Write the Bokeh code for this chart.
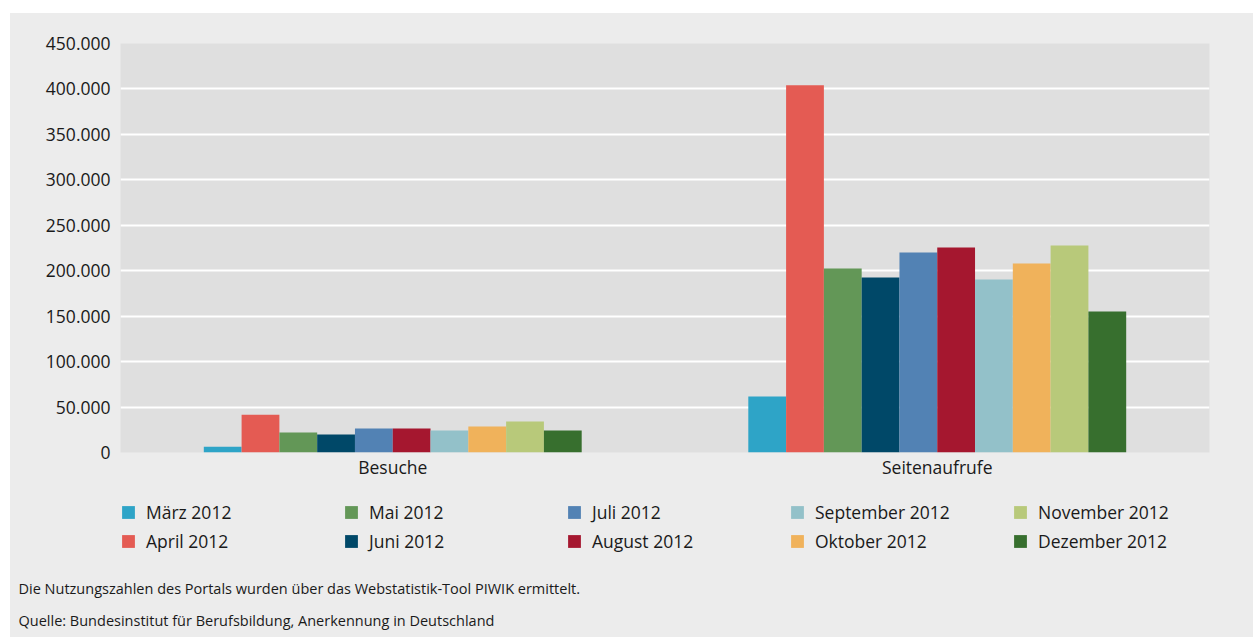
from bokeh.plotting import figure
from bokeh.models import ColumnDataSource, FactorRange, Legend, LegendItem, FixedTicker, Label, Spacer
from bokeh.layouts import column, row
from bokeh.transform import dodge
from bokeh.embed import file_html
from bokeh.resources import INLINE

categories = ["Besuche", "Seitenaufrufe"]
months = ["März 2012", "April 2012", "Mai 2012", "Juni 2012", "Juli 2012",
          "August 2012", "September 2012", "Oktober 2012", "November 2012", "Dezember 2012"]
maerz = [6300, 61500]
april = [41500, 404000]
mai = [22000, 202500]
juni = [19800, 192500]
juli = [26400, 220000]
august = [26400, 225500]
september = [24200, 190300]
oktober = [28600, 208000]
november = [34000, 227700]
dezember = [24200, 155000]
series = [maerz, april, mai, juni, juli, august, september, oktober, november, dezember]
colors = ["#2ea4c7", "#e45b53", "#639757", "#004868", "#5282b4",
          "#a5172f", "#93c1c9", "#f0b25b", "#b8c97a", "#376f2e"]
tick_values = [0, 50000, 100000, 150000, 200000, 250000, 300000, 350000, 400000, 450000]
tick_labels = ["0", "50.000", "100.000", "150.000", "200.000", "250.000",
               "300.000", "350.000", "400.000", "450.000"]
footnotes = ["Die Nutzungszahlen des Portals wurden über das Webstatistik-Tool PIWIK ermittelt.",
             "Quelle: Bundesinstitut für Berufsbildung, Anerkennung in Deutschland"]

FONT = "Open Sans"
TXT = "#1a1a1a"
PANEL = "#ececec"

data = {"cat": categories}
for i, s in enumerate(series):
    data["m%d" % i] = s
source = ColumnDataSource(data)

# ---- main chart ----
p = figure(x_range=FactorRange(factors=categories, range_padding=0),
           y_range=(0, 450000),
           frame_width=1089, frame_height=409,
           output_backend="svg", toolbar_location=None,
           min_border_left=110, min_border_top=30, min_border_right=44, min_border_bottom=33)
p.background_fill_color = "#dfdfdf"
p.border_fill_color = PANEL
p.outline_line_color = None

bw = 0.0694
for i, c in enumerate(colors):
    p.vbar(x=dodge("cat", (i - 4.5) * bw, range=p.x_range), top="m%d" % i, width=bw,
           source=source, fill_color=c, line_color=None)

p.xgrid.grid_line_color = None
p.ygrid.grid_line_color = "white"
p.ygrid.grid_line_width = 2

p.yaxis.ticker = FixedTicker(ticks=tick_values)
p.yaxis.major_label_overrides = {v: l for v, l in zip(tick_values, tick_labels)}
for ax in (p.xaxis, p.yaxis):
    ax.axis_line_color = None
    ax.major_tick_line_color = None
    ax.minor_tick_line_color = None
    ax.major_tick_out = 0
    ax.major_tick_in = 0
    ax.major_label_text_font = FONT
    ax.major_label_text_font_size = "17.5px"
    ax.major_label_text_color = TXT
p.yaxis.major_label_standoff = 10
p.xaxis.major_label_standoff = 2

# ---- legend + notes panel ----
q = figure(x_range=FactorRange(factors=categories), y_range=(1e7, 2e7),
           frame_width=1243, frame_height=152, output_backend="svg", toolbar_location=None,
           min_border=0, min_border_left=0, min_border_right=0,
           min_border_top=0, min_border_bottom=0)
q.axis.visible = False
q.grid.visible = False
q.background_fill_color = PANEL
q.border_fill_color = PANEL
q.outline_line_color = None

items = []
for i, (m, c) in enumerate(zip(months, colors)):
    r = q.vbar(x=dodge("cat", (i - 4.5) * bw, range=q.x_range), top="m%d" % i, width=bw,
               source=source, fill_color=c, line_color=None)
    items.append(LegendItem(label=m, renderers=[r]))
ordered = items[0::2] + items[1::2]

legend = Legend(items=ordered, orientation="horizontal", ncols=5, location=(110, 84),
                glyph_width=16, glyph_height=16, label_standoff=10, label_width=192,
                label_height=16, spacing=5, padding=0, margin=0,
                label_text_font=FONT, label_text_font_size="17.5px", label_text_color=TXT,
                background_fill_alpha=0, border_line_alpha=0)
q.add_layout(legend, "center")

for txt, yy in zip(footnotes, [49, 17]):
    q.add_layout(Label(x=8, y=yy, x_units="screen", y_units="screen", text=txt,
                       text_font=FONT, text_font_size="14.5px", text_color=TXT,
                       text_baseline="middle", text_align="left"))

layout = column(Spacer(height=13),
                row(Spacer(width=10),
                    column(row(p), row(q), styles={"background-color": PANEL})))
open("out.html", "w").write(file_html(layout, INLINE))
